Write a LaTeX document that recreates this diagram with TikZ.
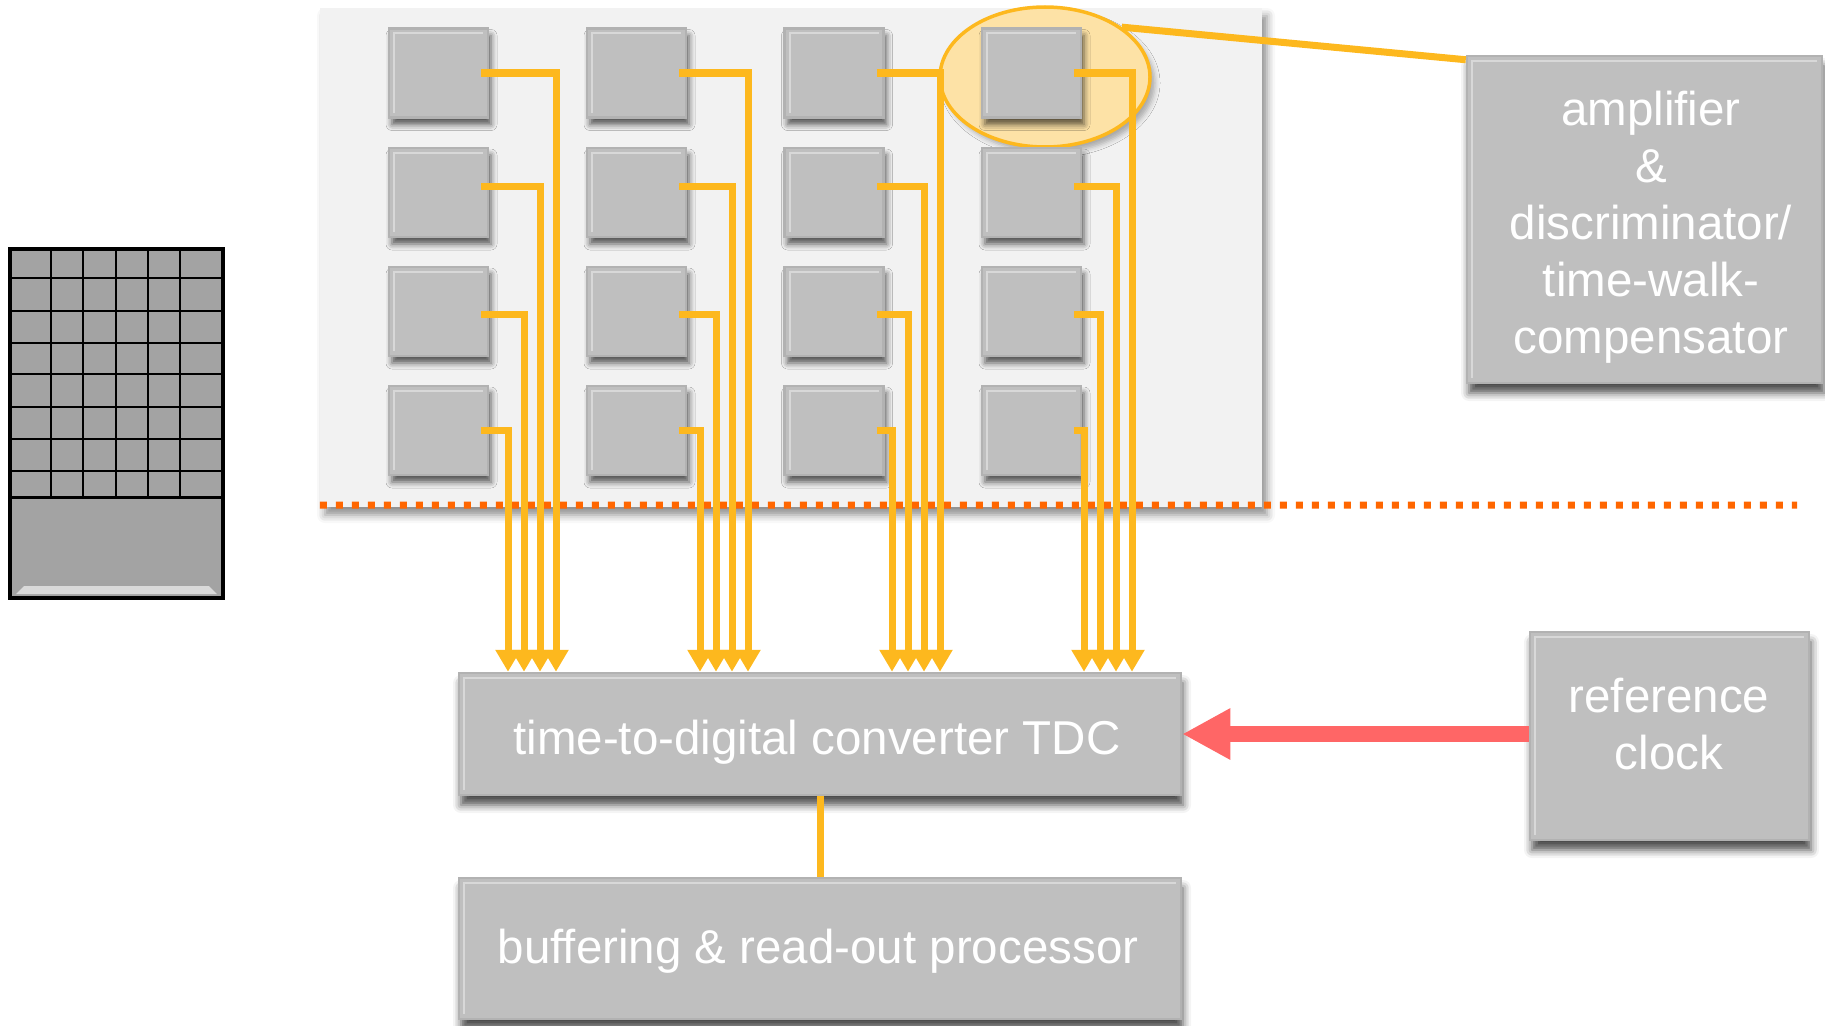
\documentclass[tikz,border=0pt]{standalone}
\usepackage{fontspec}
\setmainfont{Liberation Sans}
\usetikzlibrary{arrows.meta,shadows.blur,shapes.geometric}

\definecolor{wireorange}{RGB}{253,184,30}
\definecolor{dotorange}{RGB}{255,102,0}
\definecolor{clockred}{RGB}{255,102,102}
\definecolor{boxgray}{RGB}{191,191,191}
\definecolor{boxedge}{RGB}{178,178,178}
\definecolor{panelgray}{RGB}{242,242,242}
\definecolor{chipgray}{RGB}{163,163,163}
\definecolor{halo}{RGB}{253,226,166}

\tikzset{
  softshadow/.style={blur shadow={shadow xshift=3pt, shadow yshift=-7pt,
      shadow blur radius=6pt, shadow opacity=65}},
  bevel/.style={path picture={
      \draw[white, opacity=.4, line width=2pt]
        ([xshift=5pt,yshift=5pt]path picture bounding box.south west)
        |- ([xshift=-5pt,yshift=-5pt]path picture bounding box.north east);}},
  pixel/.style={draw=boxedge, line width=2.5pt, fill=boxgray,
      minimum width=99pt, minimum height=89pt, inner sep=0pt, softshadow, bevel},
  block/.style={draw=boxedge, line width=2.5pt, fill=boxgray, inner sep=0pt, bevel,
      blur shadow={shadow xshift=2pt, shadow yshift=-10pt,
      shadow blur radius=8pt, shadow opacity=70}},
  lbl/.style={text=white, font=\fontsize{47.5pt}{57pt}\selectfont,
      align=center, inner sep=0pt},
  wire/.style={wireorange, line width=7pt},
  wirearrow/.style={wire, -{Triangle[width=24pt,length=22pt]}},
  dotline/.style={dotorange, line width=7pt, dash pattern=on 7pt off 9pt},
  chipline/.style={black, line width=2.5pt},
}

\begin{document}
\begin{tikzpicture}[x=1pt,y=-1pt]
\useasboundingbox (0,0) rectangle (1825,1025);

% ---------- detector chip overview (left) ----------
\node[draw=black, line width=4pt, fill=chipgray, minimum width=213pt,
      minimum height=349pt, inner sep=0pt] (chip) at (116.5,423.5) {};
\fill[gray!30] (16,594) -- (24,586) -- (209,586) -- (217,594) -- cycle;
\foreach \gx in {51,83,116,148,180}
  \draw[chipline] (\gx,249) -- (\gx,497);
\foreach \gy in {278,311,343,374,407,439,471}
  \draw[chipline] (10,\gy) -- (223,\gy);
\draw[black, line width=3pt] (10,497) -- (223,497);

% ---------- pixel matrix panel ----------
\node[fill=panelgray, minimum width=942pt, minimum height=499pt, inner sep=0pt,
      blur shadow={shadow xshift=5pt, shadow yshift=-8pt,
      shadow blur radius=8pt, shadow opacity=45}] (panel) at (791,257.5) {};
\coordinate (dotend) at (1797,505);
\draw[dotline] ([yshift=2pt]panel.south west) -- (dotend);

% highlighted pixel
\node[ellipse, draw=wireorange, line width=3.5pt, fill=halo,
      minimum width=210pt, minimum height=140pt, inner sep=0pt,
      blur shadow={shadow xshift=5pt, shadow yshift=-6pt,
      shadow blur radius=5pt, shadow opacity=30}] (focus) at (1045,77) {};

% pixels
\foreach \c/\cx in {1/438.5,2/636.5,3/834,4/1031.5}
  \foreach \r/\ry in {1/73,2/192.5,3/311.5,4/430.5}
    \node[pixel] (p\c\r) at (\cx,\ry) {};

% ---------- processing blocks ----------
\node[block, minimum width=722pt, minimum height=122pt] (tdc) at (820,734) {};
\node[lbl, anchor=base] (tdc-l) at (817,754) {time-to-digital converter TDC};

\node[block, minimum width=722pt, minimum height=141pt] (buf) at (820,948.5) {};
\node[lbl, anchor=base] (buf-l) at (818,963) {buffering \& read-out processor};

\node[block, minimum width=355pt, minimum height=327pt] (amp) at (1644.5,219.5) {};
\node[lbl, anchor=base] (amp-l) at (1651,353)
  {amplifier\\\&\\discriminator/\\time-walk-\\compensator};

\node[block, minimum width=279pt, minimum height=208pt] (clk) at (1669.5,736) {};
\node[lbl, anchor=base] (clk-l) at (1669,769) {reference\\clock};

% ---------- connections ----------
\foreach \c in {1,...,4}
  \foreach \r/\dy in {1/0,2/6.5,3/-2.5,4/0} {
    \pgfmathsetmacro\vx{556+(\c-1)*192-(\r-1)*16}
    \coordinate (drop) at (\vx,0);
    \draw[wirearrow] ([xshift=-8pt,yshift=\dy pt]p\c\r.east) -| (tdc.north -| drop);
  }

\draw[wire] (tdc.south) -- (buf.north);
\draw[wire] (focus.33) -- ([yshift=-5pt]amp.north west);
\draw[clockred, line width=16pt, -{Triangle[width=48pt,length=48pt]}]
  (clk.west |- tdc.east) -- (tdc.east);
\end{tikzpicture}
\end{document}
